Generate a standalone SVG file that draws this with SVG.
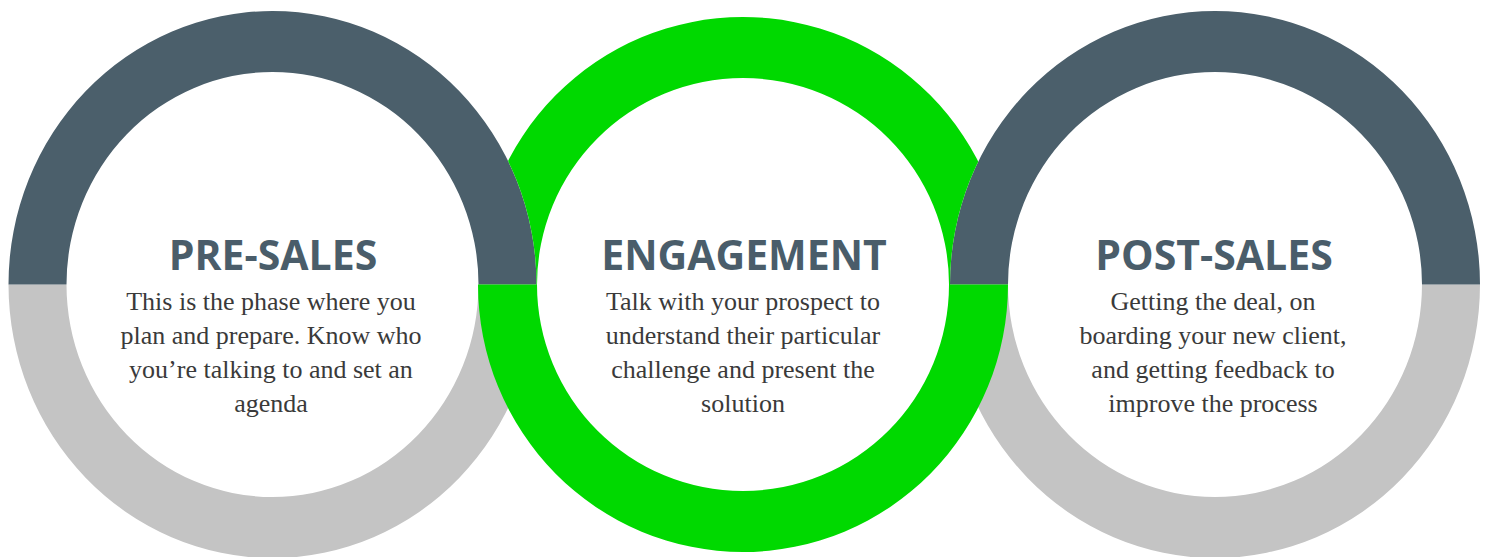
<svg xmlns="http://www.w3.org/2000/svg" width="1487" height="557" viewBox="0 0 1487 557">
<style>
.dark{fill:#4b5f6b}
.gray{fill:#c4c4c4}
.green{fill:#00d900;fill-rule:evenodd}
.title{font-family:"Open Sans","Liberation Sans",sans-serif;font-weight:700;font-size:41px;fill:#4a5d6a;text-anchor:middle}
.body{font-family:"Liberation Serif","DejaVu Serif",serif;font-size:26px;fill:#3a3a3a;text-anchor:middle}
</style>
<defs>
<mask id="greenMask" maskUnits="userSpaceOnUse" x="0" y="0" width="1487" height="557">
<rect x="0" y="0" width="1487" height="557" fill="#fff"/>
<path d="M 8.5 284.5 A 264 273.5 0 0 1 536.5 284.5 Z" fill="#000"/>
<path d="M 950 284.5 A 265 273.5 0 0 1 1480 284.5 Z" fill="#000"/>
</mask>
</defs>
<rect width="1487" height="557" fill="#fff"/>
<g id="node-pre-sales">
<path class="gray" d="M 8.5 284.5 A 264 273.5 0 0 0 536.5 284.5 L 478.5 284.5 A 206 212.5 0 0 1 66.5 284.5 Z"/>
<path class="dark" d="M 8.5 284.5 A 264 273.5 0 0 1 536.5 284.5 L 478.5 284.5 A 206 212.5 0 0 0 66.5 284.5 Z"/>
<text class="title" x="273" y="270">PRE-SALES</text>
<text class="body" x="271" y="310">This is the phase where you</text>
<text class="body" x="271" y="344">plan and prepare. Know who</text>
<text class="body" x="271" y="378">you’re talking to and set an</text>
<text class="body" x="271" y="412">agenda</text>
</g>
<g id="node-post-sales">
<path class="gray" d="M 950 284.5 A 265 273.5 0 0 0 1480 284.5 L 1422 284.5 A 207 212.5 0 0 1 1008 284.5 Z"/>
<path class="dark" d="M 950 284.5 A 265 273.5 0 0 1 1480 284.5 L 1422 284.5 A 207 212.5 0 0 0 1008 284.5 Z"/>
<text class="title" x="1214" y="270">POST-SALES</text>
<text class="body" x="1213" y="310">Getting the deal, on</text>
<text class="body" x="1213" y="344">boarding your new client,</text>
<text class="body" x="1213" y="378">and getting feedback to</text>
<text class="body" x="1213" y="412">improve the process</text>
</g>
<g id="node-engagement">
<path class="green" mask="url(#greenMask)" d="M 478 284.5 A 265 267.5 0 1 1 1008 284.5 A 265 267.5 0 1 1 478 284.5 Z M 537 284.5 A 206 206.5 0 1 0 949 284.5 A 206 206.5 0 1 0 537 284.5 Z"/>
<text class="title" x="744" y="270">ENGAGEMENT</text>
<text class="body" x="743" y="310">Talk with your prospect to</text>
<text class="body" x="743" y="344">understand their particular</text>
<text class="body" x="743" y="378">challenge and present the</text>
<text class="body" x="743" y="412">solution</text>
</g>
<g id="connectors"/>
</svg>
